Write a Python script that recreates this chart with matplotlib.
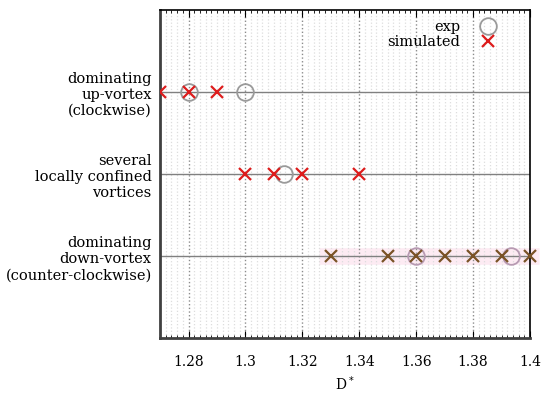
import matplotlib.pyplot as plt
from matplotlib.ticker import MultipleLocator

plt.rcParams['font.family'] = 'DejaVu Serif'
plt.rcParams['font.size'] = 10

# regime labels (top to bottom) and their row positions
regimes = ["dominating\nup-vortex\n(clockwise)",
           "several\nlocally confined\nvortices",
           "dominating\ndown-vortex\n(counter-clockwise)"]
rows = [3, 2, 1]

# simulated D* values per regime
sim_up = [1.27, 1.28, 1.29]
sim_local = [1.30, 1.31, 1.32, 1.34]
sim_down = [1.33, 1.35, 1.36, 1.37, 1.38, 1.39, 1.40]

# experimental D* values per regime
exp_up = [1.28, 1.30]
exp_local = [1.3137]
exp_down = [1.36, 1.3934]

fig, ax = plt.subplots(figsize=(5.5, 3.94), dpi=100)
fig.subplots_adjust(left=0.291, right=0.9636, top=0.974, bottom=0.141)

# row lines
for r in rows:
    ax.axhline(r, color='#808080', lw=1.0, zorder=1)

# pink highlight behind the down-vortex row
ax.plot([min(sim_down) - 0.004, max(sim_down) + 0.003], [1, 1], lw=12,
        color='#fdebf3', solid_capstyle='butt', clip_on=False, zorder=0.5)

red = '#dd1c1c'
brown = '#7a5326'
grey = '#9a9a9a'

ax.plot(exp_up, [3] * len(exp_up), 'o', mfc='none', mec=grey, ms=12, mew=1.3,
        zorder=3, clip_on=False)
ax.plot(exp_local, [2] * len(exp_local), 'o', mfc='none', mec=grey, ms=12, mew=1.3,
        zorder=3, clip_on=False)
ax.plot(exp_down, [1] * len(exp_down), 'o', mfc='none', mec='#b79ab2', ms=12, mew=1.3,
        zorder=3, clip_on=False)

ax.plot(sim_up, [3] * len(sim_up), 'x', color=red, ms=9, mew=1.6, zorder=4)
ax.plot(sim_local, [2] * len(sim_local), 'x', color=red, ms=9, mew=1.6, zorder=4)
ax.plot(sim_down, [1] * len(sim_down), 'x', color=brown, ms=9, mew=1.6, zorder=4,
        clip_on=False)

# legend handles
ax.plot([], [], 'o', mfc='none', mec=grey, ms=12, mew=1.3, label='exp')
ax.plot([], [], 'x', color=red, ms=9, mew=1.6, label='simulated')
ax.legend(loc='upper right', frameon=False, markerfirst=False, handlelength=1.5,
          handletextpad=1.2, labelspacing=0.05, borderaxespad=0.3, fontsize=10.5,
          bbox_to_anchor=(0.945, 1.0))

ax.set_xlim(1.27, 1.4)
ax.set_ylim(0, 4)
ax.set_xticks([1.28, 1.30, 1.32, 1.34, 1.36, 1.38, 1.40])
ax.set_xticklabels(['1.28', '1.3', '1.32', '1.34', '1.36', '1.38', '1.4'])
ax.xaxis.set_minor_locator(MultipleLocator(0.002))
ax.set_yticks(rows)
ax.set_yticklabels(regimes, ha='right', multialignment='right', fontsize=10.5)
ax.tick_params(axis='y', length=0, pad=6)
ax.tick_params(axis='x', which='major', direction='in', top=True, length=5, pad=12)
ax.tick_params(axis='x', which='minor', direction='in', top=True, length=2.5)
ax.set_xlabel('D$^*$', labelpad=4)

ax.grid(axis='x', which='major', color='#8c8c8c', ls=':', lw=1.0, zorder=0)
ax.grid(axis='x', which='minor', color='#dddddd', ls=':', lw=0.9, zorder=0)
ax.set_axisbelow(True)

for s in ['left', 'bottom']:
    ax.spines[s].set_linewidth(2.0)
    ax.spines[s].set_color('#404040')
for s in ['top', 'right']:
    ax.spines[s].set_linewidth(1.2)
    ax.spines[s].set_color('black')

fig.savefig('out.png', dpi=100)
